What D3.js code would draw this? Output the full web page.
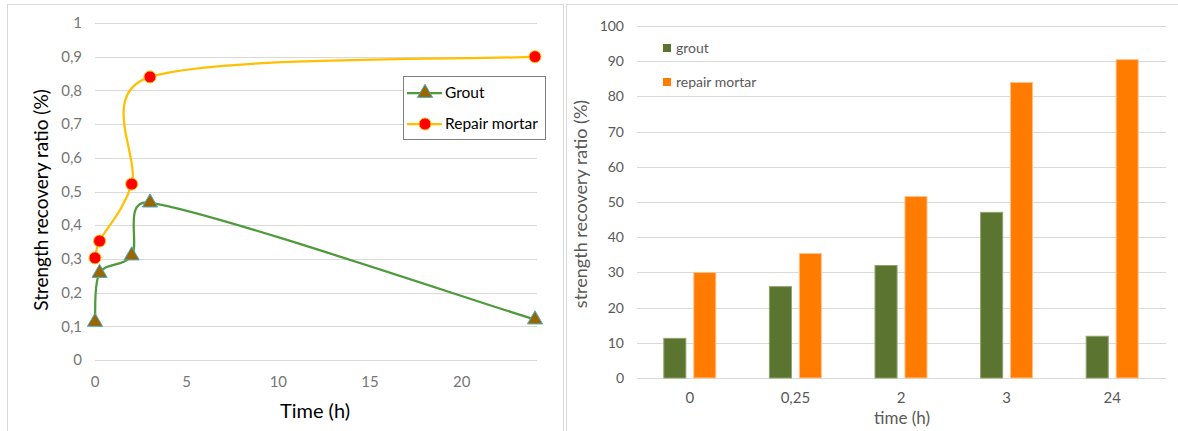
<!DOCTYPE html>
<html>
<head>
<meta charset="utf-8">
<script src="https://cdn.jsdelivr.net/npm/d3@7"></script>
<style>
  html, body { margin: 0; padding: 0; background: #fff; }
  svg { display: block; }
  text { font-family: Lato, "Open Sans", sans-serif; }
</style>
</head>
<body>
<svg id="chart" width="1178" height="431"></svg>
<script>
// Curing time (hours) shared by both panels
const hours = [0, 0.25, 2, 3, 24];
const hourLabels = ["0", "0,25", "2", "3", "24"];

// Strength recovery ratio (fraction) for the line chart
const groutRatio  = [0.113, 0.258, 0.31, 0.467, 0.12];
const mortarRatio = [0.303, 0.353, 0.522, 0.84, 0.90];

// Strength recovery ratio (%) for the bar chart
const groutPct  = [11.4, 26.1, 32.1, 47.2, 12];
const mortarPct = [30.1, 35.5, 51.7, 84.1, 90.6];

const leftYTicks  = [0, 0.1, 0.2, 0.3, 0.4, 0.5, 0.6, 0.7, 0.8, 0.9, 1];
const leftXTicks  = [0, 5, 10, 15, 20];
const rightYTicks = [0, 10, 20, 30, 40, 50, 60, 70, 80, 90, 100];

const svg = d3.select("#chart");
const gridColor = "#d9d9d9";
const tickColor = "#595959";
const commaNum = d => String(+d.toFixed(2)).replace(".", ",");

// Spreadsheet-style smoothed line: Catmull-Rom tangents (1/6 of the
// neighbour span) with each handle capped at half of its segment length.
function smoothPath(pts) {
  const p = d3.path();
  p.moveTo(pts[0][0], pts[0][1]);
  const cap = (v, max) => {
    const len = Math.hypot(v[0], v[1]);
    return len > max ? [v[0] * max / len, v[1] * max / len] : v;
  };
  for (let i = 0; i < pts.length - 1; i++) {
    const p0 = pts[i - 1] || pts[i], p1 = pts[i], p2 = pts[i + 1], p3 = pts[i + 2] || pts[i + 1];
    const seg = Math.hypot(p2[0] - p1[0], p2[1] - p1[1]);
    const h1 = cap([(p2[0] - p0[0]) / 6, (p2[1] - p0[1]) / 6], seg / 2);
    const h2 = cap([(p3[0] - p1[0]) / 6, (p3[1] - p1[1]) / 6], seg / 2);
    p.bezierCurveTo(p1[0] + h1[0], p1[1] + h1[1], p2[0] - h2[0], p2[1] - h2[1], p2[0], p2[1]);
  }
  return p.toString();
}

// ---------- panel frames ----------
svg.append("rect").attr("x", 7.5).attr("y", 4.5).attr("width", 556).attr("height", 440)
  .attr("fill", "#fff").attr("stroke", gridColor);
svg.append("rect").attr("x", 566.5).attr("y", 4.5).attr("width", 620).attr("height", 440)
  .attr("fill", "#fff").attr("stroke", gridColor);

// ---------- left: smoothed line chart ----------
const L = svg.append("g");
const x1 = d3.scaleLinear().domain([0, 24]).range([95, 535]);
const y1 = d3.scaleLinear().domain([0, 1]).range([360, 23]);

L.append("g").selectAll("line").data(leftYTicks).join("line")
  .attr("x1", 95).attr("x2", 537)
  .attr("y1", d => Math.round(y1(d)) + 0.5).attr("y2", d => Math.round(y1(d)) + 0.5)
  .attr("stroke", gridColor).attr("stroke-width", 1);

L.append("g").selectAll("text").data(leftYTicks).join("text")
  .attr("x", 82).attr("y", d => y1(d)).attr("dy", "0.35em")
  .attr("text-anchor", "end").attr("font-size", 15).attr("fill", "#767676")
  .text(commaNum);

L.append("g").selectAll("text").data(leftXTicks).join("text")
  .attr("x", d => x1(d)).attr("y", 382).attr("dy", "0.35em")
  .attr("text-anchor", "middle").attr("font-size", 15).attr("fill", "#767676")
  .text(d => d);

L.append("text").attr("x", 315).attr("y", 411).attr("dy", "0.35em")
  .attr("text-anchor", "middle").attr("font-size", 20).attr("fill", "#000")
  .text("Time  (h)");

L.append("text").attr("transform", "translate(41,200) rotate(-90)")
  .attr("dy", "0.35em").attr("text-anchor", "middle")
  .attr("font-size", 19).attr("fill", "#000")
  .text("Strength recovery ratio  (%)");

const groutPts  = hours.map((h, i) => [x1(h), y1(groutRatio[i])]);
const mortarPts = hours.map((h, i) => [x1(h), y1(mortarRatio[i])]);

const groutLine = "#4e9a3c", mortarLine = "#ffc000";
const triFill = "#996600", triStroke = "#4bacc6";
const dotFill = "#ff0000", dotStroke = "#ffc000";
const triangle = d3.symbol().type(d3.symbolTriangle).size(100);

L.append("path").attr("d", smoothPath(mortarPts)).attr("fill", "none")
  .attr("stroke", mortarLine).attr("stroke-width", 2.25);
L.append("path").attr("d", smoothPath(groutPts)).attr("fill", "none")
  .attr("stroke", groutLine).attr("stroke-width", 2.25);

L.append("g").selectAll("path").data(groutPts).join("path")
  .attr("d", triangle)
  .attr("transform", d => `translate(${d[0]},${d[1]})`)
  .attr("fill", triFill).attr("stroke", triStroke).attr("stroke-width", 1);

L.append("g").selectAll("circle").data(mortarPts).join("circle")
  .attr("cx", d => d[0]).attr("cy", d => d[1]).attr("r", 6)
  .attr("fill", dotFill).attr("stroke", dotStroke).attr("stroke-width", 1);

// legend
const lg = L.append("g");
lg.append("rect").attr("x", 403.5).attr("y", 76.5).attr("width", 142).attr("height", 63)
  .attr("fill", "#fff").attr("stroke", "#7f7f7f");
const legItems = [
  { name: "Grout", y: 93, color: groutLine, marker: "tri" },
  { name: "Repair mortar", y: 124, color: mortarLine, marker: "dot" }
];
legItems.forEach(it => {
  lg.append("line").attr("x1", 407).attr("x2", 442).attr("y1", it.y).attr("y2", it.y)
    .attr("stroke", it.color).attr("stroke-width", 2.25);
  if (it.marker === "tri") {
    lg.append("path").attr("d", triangle).attr("transform", `translate(425,${it.y})`)
      .attr("fill", triFill).attr("stroke", triStroke);
  } else {
    lg.append("circle").attr("cx", 425).attr("cy", it.y).attr("r", 6)
      .attr("fill", dotFill).attr("stroke", dotStroke);
  }
  lg.append("text").attr("x", 445).attr("y", it.y).attr("dy", "0.35em")
    .attr("font-size", 15.5).attr("fill", "#000").text(it.name);
});

// ---------- right: grouped bar chart ----------
const R = svg.append("g");
const x2 = d3.scaleBand().domain(hourLabels).range([637, 1165]);
const y2 = d3.scaleLinear().domain([0, 100]).range([378, 26]);
const sub = d3.scaleBand().domain(["grout", "mortar"]).range([-26.5, 26.5]).paddingInner(0.23);

R.append("g").selectAll("line").data(rightYTicks).join("line")
  .attr("x1", 637).attr("x2", 1166)
  .attr("y1", d => Math.round(y2(d)) + 0.5).attr("y2", d => Math.round(y2(d)) + 0.5)
  .attr("stroke", gridColor).attr("stroke-width", 1);

R.append("g").selectAll("text").data(rightYTicks).join("text")
  .attr("x", 624).attr("y", d => y2(d)).attr("dy", "0.35em")
  .attr("text-anchor", "end").attr("font-size", 14).attr("fill", tickColor)
  .text(d => d);

const groutBar = "#5b7531", mortarBar = "#ff7c00";
const barRows = hourLabels.map((c, i) => ({ c, g: groutPct[i], m: mortarPct[i] }));

R.append("g").selectAll("rect").data(barRows).join("rect")
  .attr("x", d => x2(d.c) + x2.bandwidth() / 2 + sub("grout") + 0.5)
  .attr("width", sub.bandwidth() - 1)
  .attr("y", d => y2(d.g) + 0.5).attr("height", d => y2(0) - y2(d.g) - 0.5)
  .attr("fill", groutBar).attr("stroke", "#8fa36b").attr("stroke-width", 1);

R.append("g").selectAll("rect").data(barRows).join("rect")
  .attr("x", d => x2(d.c) + x2.bandwidth() / 2 + sub("mortar") + 0.5)
  .attr("width", sub.bandwidth() - 1)
  .attr("y", d => y2(d.m) + 0.5).attr("height", d => y2(0) - y2(d.m) - 0.5)
  .attr("fill", mortarBar).attr("stroke", "#ffc28a").attr("stroke-width", 1);

R.append("g").selectAll("text").data(hourLabels).join("text")
  .attr("x", d => x2(d) + x2.bandwidth() / 2).attr("y", 398).attr("dy", "0.35em")
  .attr("text-anchor", "middle").attr("font-size", 15).attr("fill", tickColor)
  .text(d => d);

R.append("text").attr("x", 902).attr("y", 418).attr("dy", "0.35em")
  .attr("text-anchor", "middle").attr("font-size", 17).attr("fill", tickColor)
  .text("time (h)");

R.append("text").attr("transform", "translate(581,204) rotate(-90)")
  .attr("dy", "0.35em").attr("text-anchor", "middle")
  .attr("font-size", 18).attr("fill", tickColor)
  .text("strength recovery ratio (%)");

const barLegend = [
  { name: "grout", y: 48, color: groutBar },
  { name: "repair mortar", y: 82, color: mortarBar }
];
barLegend.forEach(it => {
  R.append("rect").attr("x", 663).attr("y", it.y - 4).attr("width", 8).attr("height", 8)
    .attr("fill", it.color);
  R.append("text").attr("x", 676).attr("y", it.y).attr("dy", "0.35em")
    .attr("font-size", 14).attr("fill", tickColor).text(it.name);
});
</script>
</body>
</html>
